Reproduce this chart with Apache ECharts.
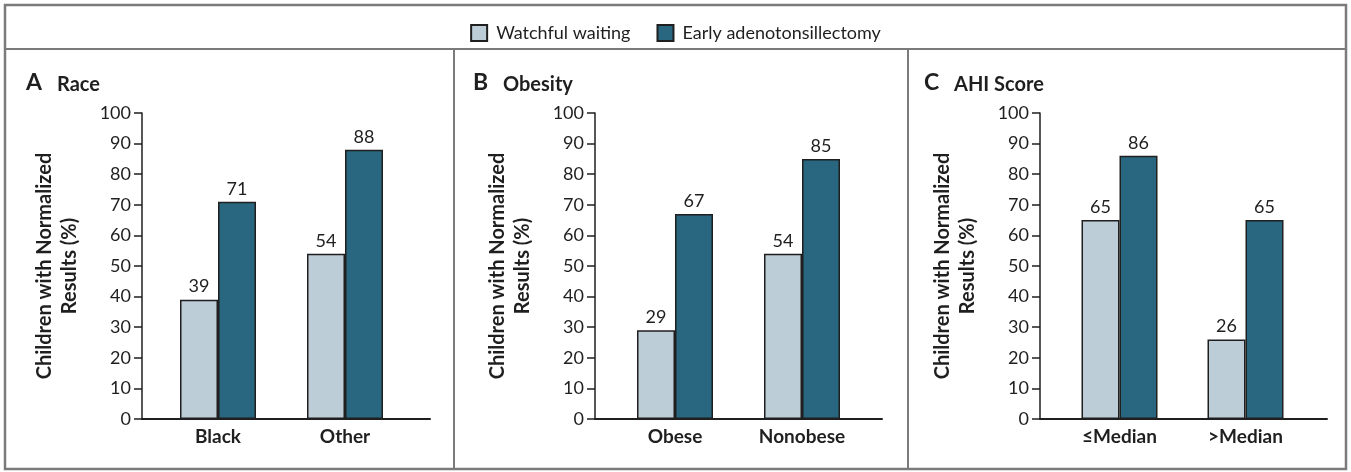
<!DOCTYPE html>
<html>
<head>
<meta charset="utf-8">
<title>Normalized Results</title>
<script src="https://cdn.jsdelivr.net/npm/echarts@6/dist/echarts.min.js"></script>
<style>
  html, body { margin: 0; padding: 0; background: #fff; }
  #main { width: 1351px; height: 472px; }
</style>
</head>
<body>
<div id="main"></div>
<script>
// data
const seriesNames = ['Watchful waiting', 'Early adenotonsillectomy'];
const panelLetters = ['A', 'B', 'C'];
const panelTitles = ['Race', 'Obesity', 'AHI Score'];
const raceCats = ['Black', 'Other'];
const raceWaiting = [39, 54];
const raceSurgery = [71, 88];
const obesityCats = ['Obese', 'Nonobese'];
const obesityWaiting = [29, 54];
const obesitySurgery = [67, 85];
const ahiCats = ['\u2264Median', '>Median'];
const ahiWaiting = [65, 26];
const ahiSurgery = [86, 65];
const yTicks = [0, 10, 20, 30, 40, 50, 60, 70, 80, 90, 100];

const panels = [
  { cats: raceCats, waiting: raceWaiting, surgery: raceSurgery },
  { cats: obesityCats, waiting: obesityWaiting, surgery: obesitySurgery },
  { cats: ahiCats, waiting: ahiWaiting, surgery: ahiSurgery }
];

// layout (pixels)
const axisLeft = [142, 595, 1040];
const axisLen = [288, 287, 287];
const barsLeft = [154.5, 611.5, 1056.5];
const barsWidth = [254, 254, 252];
const letterLeft = [21, 468, 919];
const titleLeft = [52, 498, 949];
const plotTop = 113, plotHeight = 306;

const FONT = 'Lato';
const INK = '#1f1f1f';
const colors = ['#bccdd8', '#28677f'];

const grid = [], xAxis = [], yAxis = [], series = [], title = [];

panels.forEach(function (p, i) {
  // outer grid: visible y axis + the long baseline
  grid.push({ left: axisLeft[i], top: plotTop, width: axisLen[i], height: plotHeight });
  // inner grid: the bar groups and their labels
  grid.push({ left: barsLeft[i], top: plotTop, width: barsWidth[i], height: plotHeight });

  xAxis.push({
    type: 'category', gridIndex: 2 * i, data: [''],
    axisLine: { lineStyle: { color: INK, width: 2 } },
    axisTick: { show: false }, axisLabel: { show: false }
  });
  xAxis.push({
    type: 'category', gridIndex: 2 * i + 1, data: p.cats,
    axisLine: { show: false }, axisTick: { show: false },
    axisLabel: { margin: 8, fontFamily: FONT, fontSize: 19, fontWeight: 'bold', color: INK }
  });

  yAxis.push({
    type: 'value', gridIndex: 2 * i, min: yTicks[0], max: yTicks[yTicks.length - 1], interval: 10,
    name: 'Children with Normalized\nResults (%)',
    nameLocation: 'middle', nameGap: 60,
    nameTextStyle: { fontFamily: FONT, fontSize: 20, fontWeight: 'bold', color: INK, lineHeight: 25 },
    axisLine: { show: true, lineStyle: { color: INK, width: 1.5 } },
    axisTick: { show: true, length: 8, lineStyle: { color: INK, width: 1.5 } },
    axisLabel: { margin: 11, fontFamily: FONT, fontSize: 18, color: INK },
    splitLine: { show: false }
  });
  yAxis.push({
    type: 'value', gridIndex: 2 * i + 1, min: 0, max: 100, show: false
  });

  [p.waiting, p.surgery].forEach(function (vals, k) {
    series.push({
      name: seriesNames[k], type: 'bar',
      xAxisIndex: 2 * i + 1, yAxisIndex: 2 * i + 1,
      data: vals, barWidth: 38, barGap: '0%',
      itemStyle: { color: colors[k], borderColor: INK, borderWidth: 1.5 },
      label: { show: true, position: 'top', distance: 4, fontFamily: FONT, fontSize: 18, color: INK },
      emphasis: { disabled: true }
    });
  });

  title.push({ text: panelLetters[i], left: letterLeft[i], top: 66,
    textStyle: { fontFamily: FONT, fontSize: 23, fontWeight: 'bold', color: INK } });
  title.push({ text: panelTitles[i], left: titleLeft[i], top: 70,
    textStyle: { fontFamily: FONT, fontSize: 20, fontWeight: 'bold', color: INK } });
});

const chart = echarts.init(document.getElementById('main'), null, { renderer: 'canvas' });
chart.setOption({
  animation: false,
  backgroundColor: '#fff',
  title: title,
  legend: {
    data: seriesNames, top: 19, left: 'center',
    icon: 'rect', itemWidth: 16, itemHeight: 16, itemGap: 26,
    textStyle: { fontFamily: FONT, fontSize: 18, color: INK, padding: [0, 0, 0, 4] }
  },
  grid: grid,
  xAxis: xAxis,
  yAxis: yAxis,
  series: series,
  graphic: [
    { type: 'rect', shape: { x: 5, y: 5, width: 1341, height: 464 },
      style: { fill: null, stroke: '#7b7b7b', lineWidth: 2.5 }, silent: true },
    { type: 'line', shape: { x1: 5, y1: 49, x2: 1346, y2: 49 },
      style: { stroke: '#7b7b7b', lineWidth: 2 }, silent: true },
    { type: 'line', shape: { x1: 454, y1: 49, x2: 454, y2: 469 },
      style: { stroke: '#7b7b7b', lineWidth: 2 }, silent: true },
    { type: 'line', shape: { x1: 908, y1: 49, x2: 908, y2: 469 },
      style: { stroke: '#7b7b7b', lineWidth: 2 }, silent: true }
  ]
});
</script>
</body>
</html>
